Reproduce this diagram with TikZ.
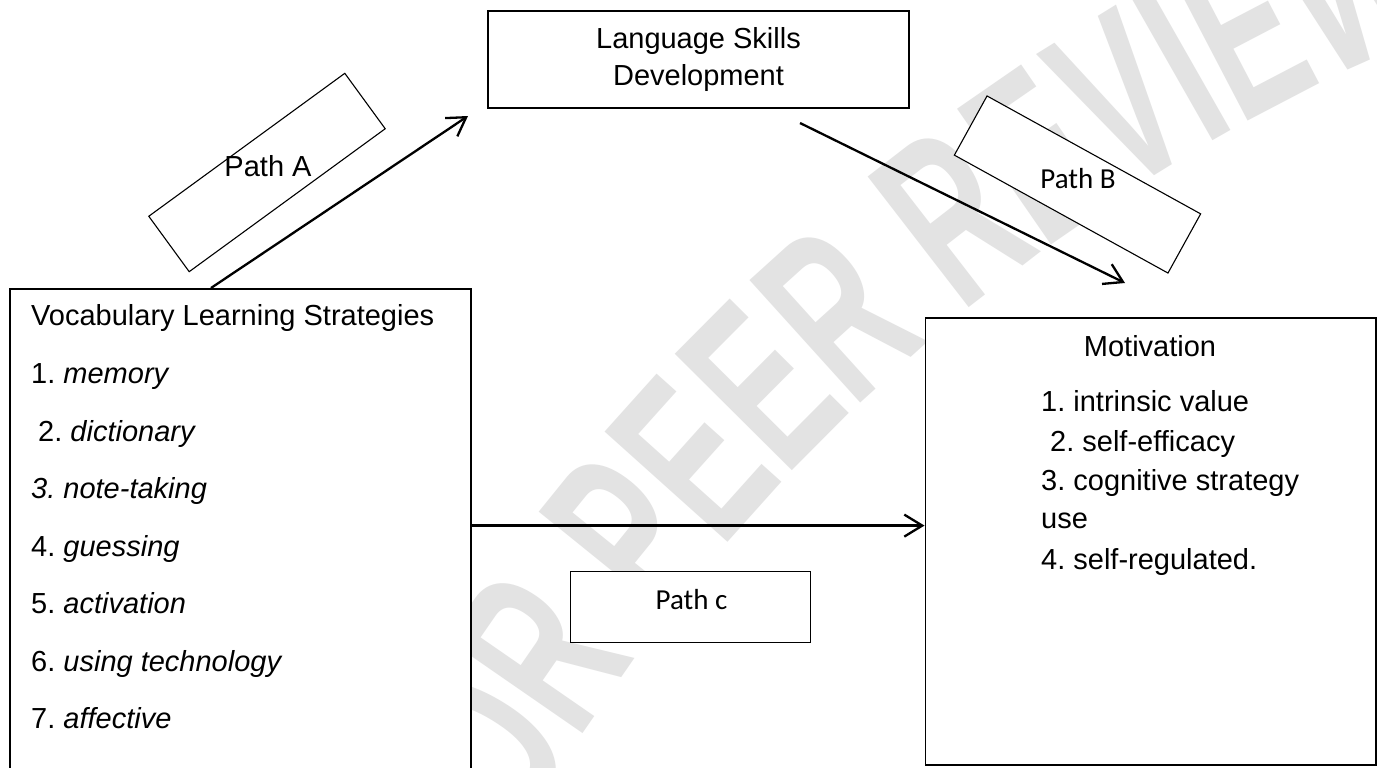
\documentclass[tikz,border=0pt]{standalone}
\usepackage{fontspec}
\setmainfont{Liberation Sans}
\newfontfamily\calibri{Carlito}
\newfontfamily\wmfont[FakeStretch=0.6]{Liberation Sans}
\usetikzlibrary{arrows.meta,decorations.text}
\frenchspacing
\begin{document}
\begin{tikzpicture}[x=1pt,y=1pt,
  box/.style={draw,line width=1.8pt,fill=white,inner sep=0pt},
  thinbox/.style={draw,line width=1.1pt,fill=white,inner sep=0pt},
  lbl/.style={inner sep=0pt,anchor=base west,font=\fontsize{29}{35}\selectfont},
  cal/.style={inner sep=0pt,anchor=base,font=\calibri\fontsize{29}{35}\selectfont},
  arr/.style={line width=2.3pt,-{Straight Barb[length=18pt,width=22pt]}}
]
\clip (0,0) rectangle (1377,-768);
\fill[white] (0,0) rectangle (1377,-768);
% watermark
\path[decorate,decoration={text along path,text align=center,
  text={|\wmfont\bfseries\fontsize{240}{240}\selectfont\color{black!11}|FOR PEER REVIEW}}]
  (449,-975) .. controls (660,-522) and (1041,-173) .. (1511,-2);

% boxes
\node[box,minimum width=421pt,minimum height=97pt,align=center,
  font=\fontsize{29}{36.5}\selectfont] (lsd) at (698.5,-59.5) {Language Skills\\Development};
\node[box,minimum width=461pt,minimum height=520pt,anchor=north west] (vls) at (9,-288) {};
\node[box,minimum width=450.5pt,minimum height=446.6pt,anchor=north west] (mot) at (924.5,-317.4) {};
\node[thinbox,minimum width=242.6pt,minimum height=68.6pt,rotate=36.1] (pa) at (267,-172.5) {};
\node[thinbox,minimum width=244pt,minimum height=67.6pt,rotate=-28.9] (pb) at (1077.5,-184.5) {};
\node[thinbox,minimum width=240pt,minimum height=71pt,anchor=north west] (pc) at (570,-571) {};

% box labels
\node[lbl,anchor=base] (paT) at (268,-176) {Path A};
\node[cal] (pbT) at (1078,-188.6) {Path B};
\node[cal] (pcT) at (691.5,-609) {Path c};

% left list
\node[lbl] (t0) at (31,-325.7) {Vocabulary Learning Strategies};
\node[lbl] (t1) at (31,-383) {1. \textit{memory}};
\node[lbl] (t2) at (38,-441) {2. \textit{dictionary}};
\node[lbl] (t3) at (31,-498) {\textit{3. note-taking}};
\node[lbl] (t4) at (31,-556) {4. \textit{guessing}};
\node[lbl] (t5) at (31,-613) {5. \textit{activation}};
\node[lbl] (t6) at (31,-671) {6. \textit{using technology}};
\node[lbl] (t7) at (31,-728) {7. \textit{affective}};

% motivation list
\node[lbl,anchor=base] (m0) at (1150,-356) {Motivation};
\node[lbl] (m1) at (1041,-411) {1. intrinsic value};
\node[lbl] (m2) at (1050,-451.6) {2. self-efficacy};
\node[lbl] (m3) at (1041,-490) {3. cognitive strategy};
\node[lbl] (m4) at (1041,-528) {use};
\node[lbl] (m5) at (1041,-569) {4. self-regulated.};

% connectors
\coordinate (aE) at (468,-116);
\coordinate (bS) at (800,-123);
\coordinate (bE) at (1125,-283);
\coordinate (cy) at (0,-525.6);
\draw[arr] ([xshift=202pt]vls.north west) -- (aE);
\draw[arr] (bS) -- (bE);
\draw[arr] (vls.east |- cy) -- (mot.west |- cy);
\end{tikzpicture}
\end{document}
